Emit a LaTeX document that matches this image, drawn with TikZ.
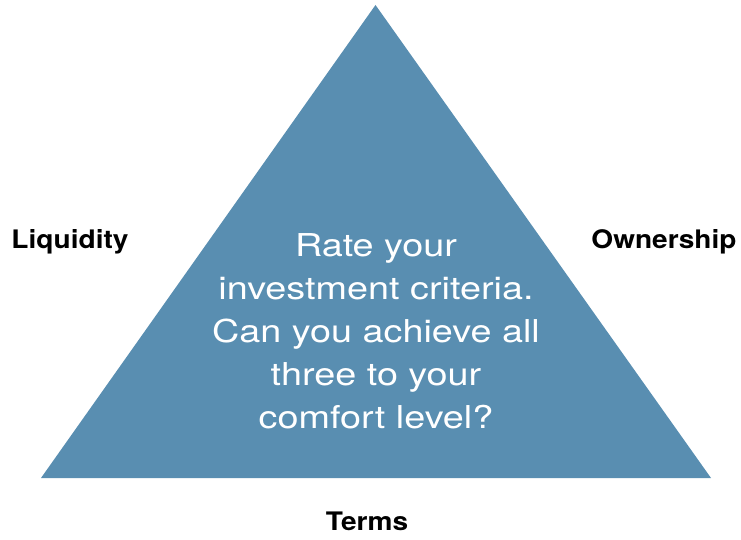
\documentclass[tikz,border=0pt]{standalone}
\usepackage{fontspec}
\setmainfont{TeX Gyre Heros}
\newfontfamily\widefont[FakeStretch=1.2]{TeX Gyre Heros}
\newfontfamily\widebold[FakeStretch=1.1]{TeX Gyre Heros Bold}
\definecolor{steel}{RGB}{89,142,177}

\begin{document}
\begin{tikzpicture}[x=1pt, y=-1pt,
	pyramid/.style={fill=steel, draw=none},
	corner/.style={font=\widebold\fontsize{25.5}{29}\selectfont, text=black, inner sep=0pt},
	question/.style={font=\widefont\fontsize{31.5}{43}\selectfont, text=white, align=center, inner sep=0pt}]
	\useasboundingbox (0,0) rectangle (741,540);
	% Define corners of the triangle
	\coordinate (apex) at (375.5, 5);
	\coordinate (left) at (41, 478);
	\coordinate (right) at (711, 478);
	\fill[pyramid] (apex) -- (right) -- (left) -- cycle;
	
	% Labels round the triangle
	\node[corner] at (70, 242) (liquidity) {Liquidity};
	\node[corner] at (664, 242) (ownership) {Ownership};
	\node[corner] at (367, 521) (terms) {Terms};
	
	% Text in the middle
	\node[question] at (376, 331) (rate) {Rate your\\investment criteria.\\Can you achieve all\\three to your\\comfort level?};
\end{tikzpicture}
\end{document}
